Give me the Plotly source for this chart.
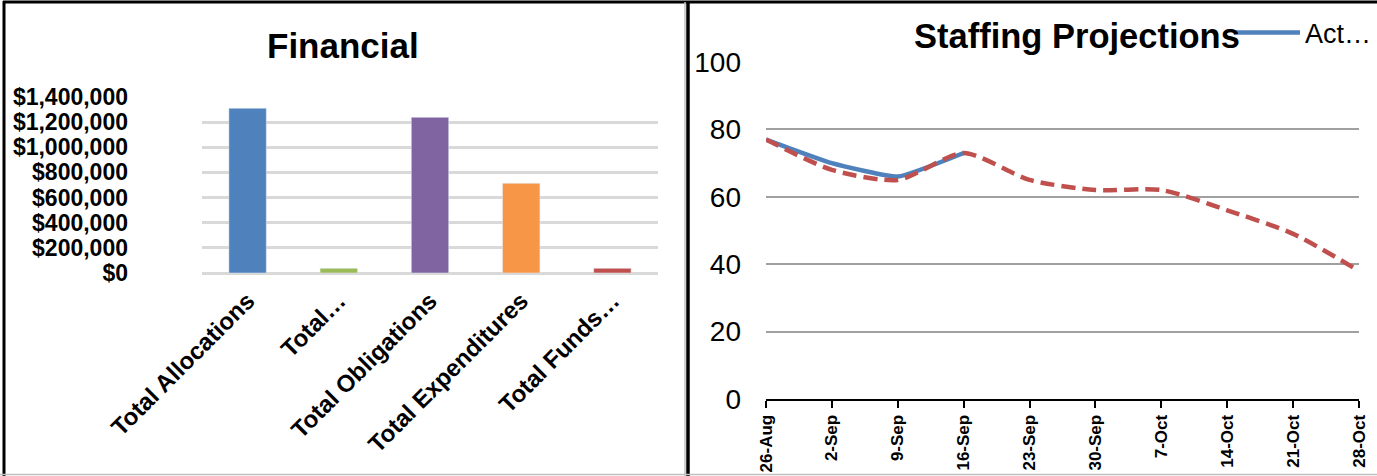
import plotly.graph_objects as go

# ---- data ----
fin_categories = ["Total Allocations", "Total…", "Total Obligations", "Total Expenditures", "Total Funds…"]
fin_values = [1310000, 37000, 1238000, 713000, 37000]
fin_colors = ["#4F81BD", "#9BBB59", "#8064A2", "#F79646", "#C0504D"]
fin_ticks = [0, 200000, 400000, 600000, 800000, 1000000, 1200000, 1400000]

dates = ["26-Aug", "2-Sep", "9-Sep", "16-Sep", "23-Sep", "30-Sep", "7-Oct", "14-Oct", "21-Oct", "28-Oct"]
actual = [77, 70, 66, 73]
projected = [77, 68, 65, 73, 65, 62, 62, 56, 49, 38]
staff_ticks = [0, 20, 40, 60, 80, 100]

W, H = 1377, 476
FONT = "Liberation Sans, Arial, sans-serif"


def px(x):
    return x / W


def py(y):
    return 1 - y / H


fig = go.Figure()

fig.add_trace(go.Bar(
    x=fin_categories, y=fin_values, marker_color=fin_colors,
    xaxis="x", yaxis="y", showlegend=False,
))

fig.add_trace(go.Scatter(
    x=dates[:len(actual)], y=actual, mode="lines", name="Act…",
    line=dict(color="#4F81BD", width=4.5, shape="spline", smoothing=0.4),
    xaxis="x2", yaxis="y2", showlegend=True,
))
fig.add_trace(go.Scatter(
    x=dates, y=projected, mode="lines", name="Projected",
    line=dict(color="#C0504D", width=4.5, dash="14px,7px", shape="spline", smoothing=0.7),
    xaxis="x2", yaxis="y2", showlegend=False,
))

fig.update_layout(
    width=W, height=H, autosize=False,
    margin=dict(l=0, r=0, t=0, b=0, autoexpand=False),
    paper_bgcolor="white", plot_bgcolor="white",
    font=dict(family=FONT, color="black"),
    bargap=0.59,
    xaxis=dict(
        domain=[px(202), px(658)], anchor="y", automargin=False,
        range=[-0.5, 4.5], showgrid=False, showline=False, ticks="",
        tickangle=-45, ticklabelstandoff=8,
        tickfont=dict(size=24, family=FONT, weight="bold"),
    ),
    yaxis=dict(
        domain=[py(273), py(97)], anchor="x", automargin=False,
        range=[0, 1400000], tickvals=fin_ticks, tickformat="$,.0f",
        showgrid=True, gridcolor="#D9D9D9", gridwidth=3,
        zeroline=True, zerolinecolor="#D9D9D9", zerolinewidth=3,
        showline=False, ticks="", ticklabelstandoff=73,
        tickfont=dict(size=23, family=FONT, weight="bold"),
    ),
    xaxis2=dict(
        domain=[px(766), px(1359)], anchor="y2", automargin=False,
        type="category", range=[0, 9], showgrid=False,
        showline=True, linecolor="black", linewidth=2,
        ticks="outside", ticklen=7, tickwidth=2, tickcolor="black",
        tickangle=-90, tickfont=dict(size=17, family=FONT, weight="bold"),
    ),
    yaxis2=dict(
        domain=[py(399), py(62)], anchor="x2", automargin=False,
        range=[0, 100], tickvals=staff_ticks,
        showgrid=True, gridcolor="#A0A0A0", gridwidth=2,
        zeroline=False, showline=False, ticks="", ticklabelstandoff=24,
        tickfont=dict(size=28, family=FONT),
    ),
    legend=dict(
        x=px(1229), y=py(33), xanchor="left", yanchor="middle",
        bgcolor="rgba(0,0,0,0)", font=dict(size=27, family=FONT),
        itemwidth=66,
    ),
    annotations=[
        dict(text="<b>Financial</b>", x=px(343), y=py(45), xref="paper", yref="paper",
             xanchor="center", yanchor="middle", showarrow=False,
             font=dict(size=35, family=FONT)),
        dict(text="<b>Staffing Projections</b>", x=px(1077), y=py(36), xref="paper", yref="paper",
             xanchor="center", yanchor="middle", showarrow=False,
             font=dict(size=34.5, family=FONT)),
    ],
    shapes=[
        dict(type="line", xref="paper", yref="paper", x0=px(3), x1=1, y0=py(2), y1=py(2),
             line=dict(color="black", width=3)),
        dict(type="line", xref="paper", yref="paper", x0=px(4), x1=px(4), y0=py(1), y1=py(476),
             line=dict(color="black", width=3)),
        dict(type="line", xref="paper", yref="paper", x0=px(685), x1=px(685), y0=py(2), y1=py(476),
             line=dict(color="#BFBFBF", width=1.5)),
        dict(type="line", xref="paper", yref="paper", x0=px(688), x1=px(688), y0=py(1), y1=py(476),
             line=dict(color="black", width=3.5)),
        dict(type="line", xref="paper", yref="paper", x0=0, x1=1, y0=py(474.5), y1=py(474.5),
             line=dict(color="#BFBFBF", width=1.5)),
    ],
)

fig.write_html(
    "out.html",
    config={"displayModeBar": False},
    post_script="document.body.style.margin='0';document.body.style.padding='0';"
                "document.body.style.overflow='hidden';",
)
